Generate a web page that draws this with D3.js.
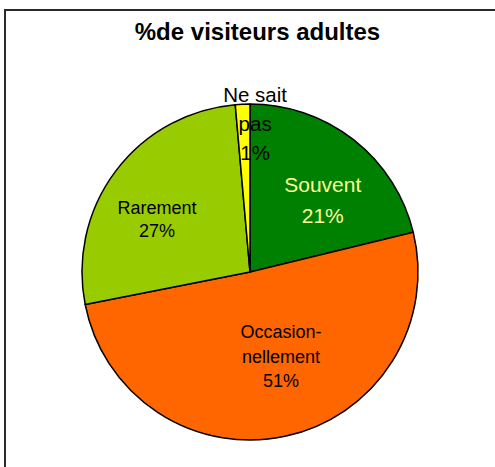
<!DOCTYPE html>
<html lang="fr">
<head>
  <meta charset="UTF-8">
  <title>% de visiteurs adultes</title>
  <script src="https://d3js.org/d3.v7.min.js"></script>
  <style>
    html, body { margin: 0; background: #fff; }
    svg { display: block; }
    .title { font-family: "Liberation Sans", Arial, sans-serif; font-size: 24px; font-weight: bold; text-anchor: middle; fill: #000; }
    .slice-label { font-family: "Liberation Sans", Arial, sans-serif; text-anchor: middle; }
  </style>
</head>
<body>
  <svg width="495" height="467"></svg>
  <script>
    // données
    const categories = ["Souvent", "Occasionnellement", "Rarement", "Ne sait pas"];
    const values = [21.2, 50.7, 26.7, 1.4];
    const percentLabels = ["21%", "51%", "27%", "1%"];
    const labelLines = [["Souvent"], ["Occasion-", "nellement"], ["Rarement"], ["Ne sait", "pas"]];
    const colors = ["#008000", "#FF6600", "#99CC00", "#FFFF00"];
    const textColors = ["#FFFF99", "#000", "#000", "#000"];

    // mise en page
    const cx = 250, cy = 272, radius = 168;
    const labelRadius = 100;
    const fontSizes = [21, 18, 18, 20.5];
    const lineHeights = [31, 24.5, 23.5, 29];
    const nudges = [[11, 7], [9.5, -13], [-13, 7.3], [9.5, -48.6]];

    const svg = d3.select("svg");

    // cadre
    svg.append("rect")
      .attr("x", 5).attr("y", 10)
      .attr("width", 600).attr("height", 600)
      .attr("fill", "none")
      .attr("stroke", "#2a2a2a")
      .attr("stroke-width", 2);

    svg.append("text")
      .attr("class", "title")
      .attr("x", 257.5)
      .attr("y", 40)
      .text("%de visiteurs adultes");

    const pie = d3.pie().sort(null).value(d => d.value);
    const data = categories.map((c, i) => ({ name: c, value: values[i], i }));
    const arcs = pie(data);

    const arc = d3.arc().innerRadius(0).outerRadius(radius);
    const labelArc = d3.arc().innerRadius(labelRadius).outerRadius(labelRadius);

    const g = svg.append("g").attr("transform", `translate(${cx},${cy})`);

    g.selectAll("path")
      .data(arcs)
      .enter()
      .append("path")
      .attr("d", arc)
      .attr("fill", d => colors[d.data.i])
      .attr("stroke", "#000")
      .attr("stroke-width", 1.5)
      .attr("stroke-linejoin", "round");

    // étiquettes
    arcs.forEach(d => {
      const i = d.data.i;
      const [x0, y0] = labelArc.centroid(d);
      const x = x0 + nudges[i][0];
      const y = y0 + nudges[i][1];
      const lines = labelLines[i].concat([percentLabels[i]]);
      const lh = lineHeights[i];
      const fs = fontSizes[i];
      const firstBaseline = y - (lines.length - 1) * lh / 2 + 0.35 * fs;
      const t = g.append("text")
        .attr("class", "slice-label")
        .style("font-size", fs + "px")
        .attr("fill", textColors[i]);
      lines.forEach((line, k) => {
        t.append("tspan")
          .attr("x", x)
          .attr("y", firstBaseline + k * lh)
          .text(line);
      });
    });
  </script>
</body>
</html>
